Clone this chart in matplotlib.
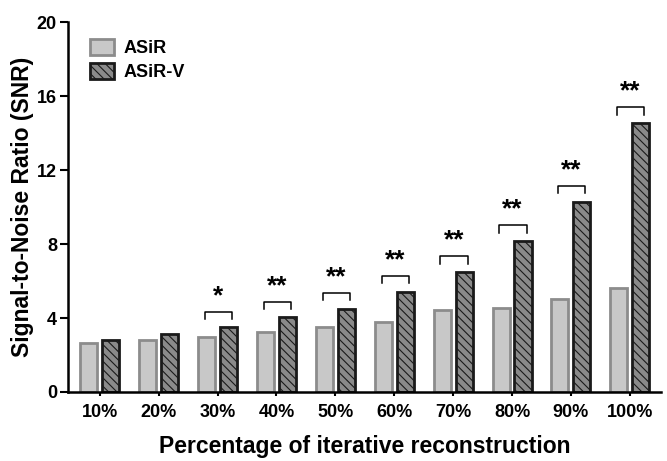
import numpy as np
import matplotlib.pyplot as plt
import matplotlib as mpl

mpl.rcParams['font.family'] = ['Liberation Sans', 'DejaVu Sans']
mpl.rcParams['font.weight'] = 'bold'
mpl.rcParams['hatch.linewidth'] = 0.8

categorias = ["10%", "20%", "30%", "40%", "50%", "60%", "70%", "80%", "90%", "100%"]
asir = [2.63, 2.8, 2.97, 3.23, 3.5, 3.8, 4.42, 4.57, 5.05, 5.6]
asir_v = [2.83, 3.15, 3.5, 4.03, 4.5, 5.43, 6.5, 8.17, 10.3, 14.55]
signif = ["", "", "*", "**", "**", "**", "**", "**", "**", "**"]

x = np.arange(len(categorias))
w = 0.29
d = 0.186

fig = plt.figure(figsize=(6.67, 4.61), dpi=100)
ax = fig.add_axes([0.102, 0.1497, 0.889, 0.802])

ax.bar(x - d, asir, w, color="#c8c8c8", edgecolor="#8c8c8c", linewidth=2, label="ASiR")
ax.bar(x + d, asir_v, w, color="#8a8a8a", edgecolor="#1a1a1a", linewidth=2,
       hatch="\\\\\\\\", label="ASiR-V")

# brackets de significancia
for i, s in enumerate(signif):
    if not s:
        continue
    y = asir_v[i] + 0.85
    ax.plot([x[i] - d - 0.03, x[i] - d - 0.03, x[i] + d + 0.06, x[i] + d + 0.06],
            [y - 0.4, y, y, y - 0.4], color="black", lw=1.1)
    ax.text(x[i] + 0.01, y + 0.2, s, ha="center", va="bottom", fontsize=19, fontweight="bold")

ax.set_xlim(-0.54, 9.53)
ax.set_ylim(0, 20)
ax.set_yticks([0, 4, 8, 12, 16, 20])
ax.set_xticks(x)
ax.set_xticklabels(categorias, fontsize=13, fontweight="bold")
ax.tick_params(axis="x", length=3, width=1.5, pad=6)
ax.tick_params(axis="y", labelsize=13, width=1.5, length=6, pad=2)
for lbl in ax.get_yticklabels():
    lbl.set_fontweight("bold")

ax.spines["top"].set_visible(False)
ax.spines["right"].set_visible(False)
ax.spines["left"].set_linewidth(1.8)
ax.spines["bottom"].set_linewidth(1.8)

ax.set_ylabel("Signal-to-Noise Ratio (SNR)", fontsize=16.5, fontweight="bold")
ax.yaxis.set_label_coords(-0.058, 0.5)
ax.set_xlabel("Percentage of iterative reconstruction", fontsize=16.5, fontweight="bold", labelpad=10)

leg = ax.legend(loc="upper left", bbox_to_anchor=(0.01, 1.0), frameon=False,
                prop={"size": 13, "weight": "bold"}, handlelength=1.3, handleheight=1.0,
                handletextpad=0.55, labelspacing=0.35)

plt.savefig("out.png", dpi=100)
